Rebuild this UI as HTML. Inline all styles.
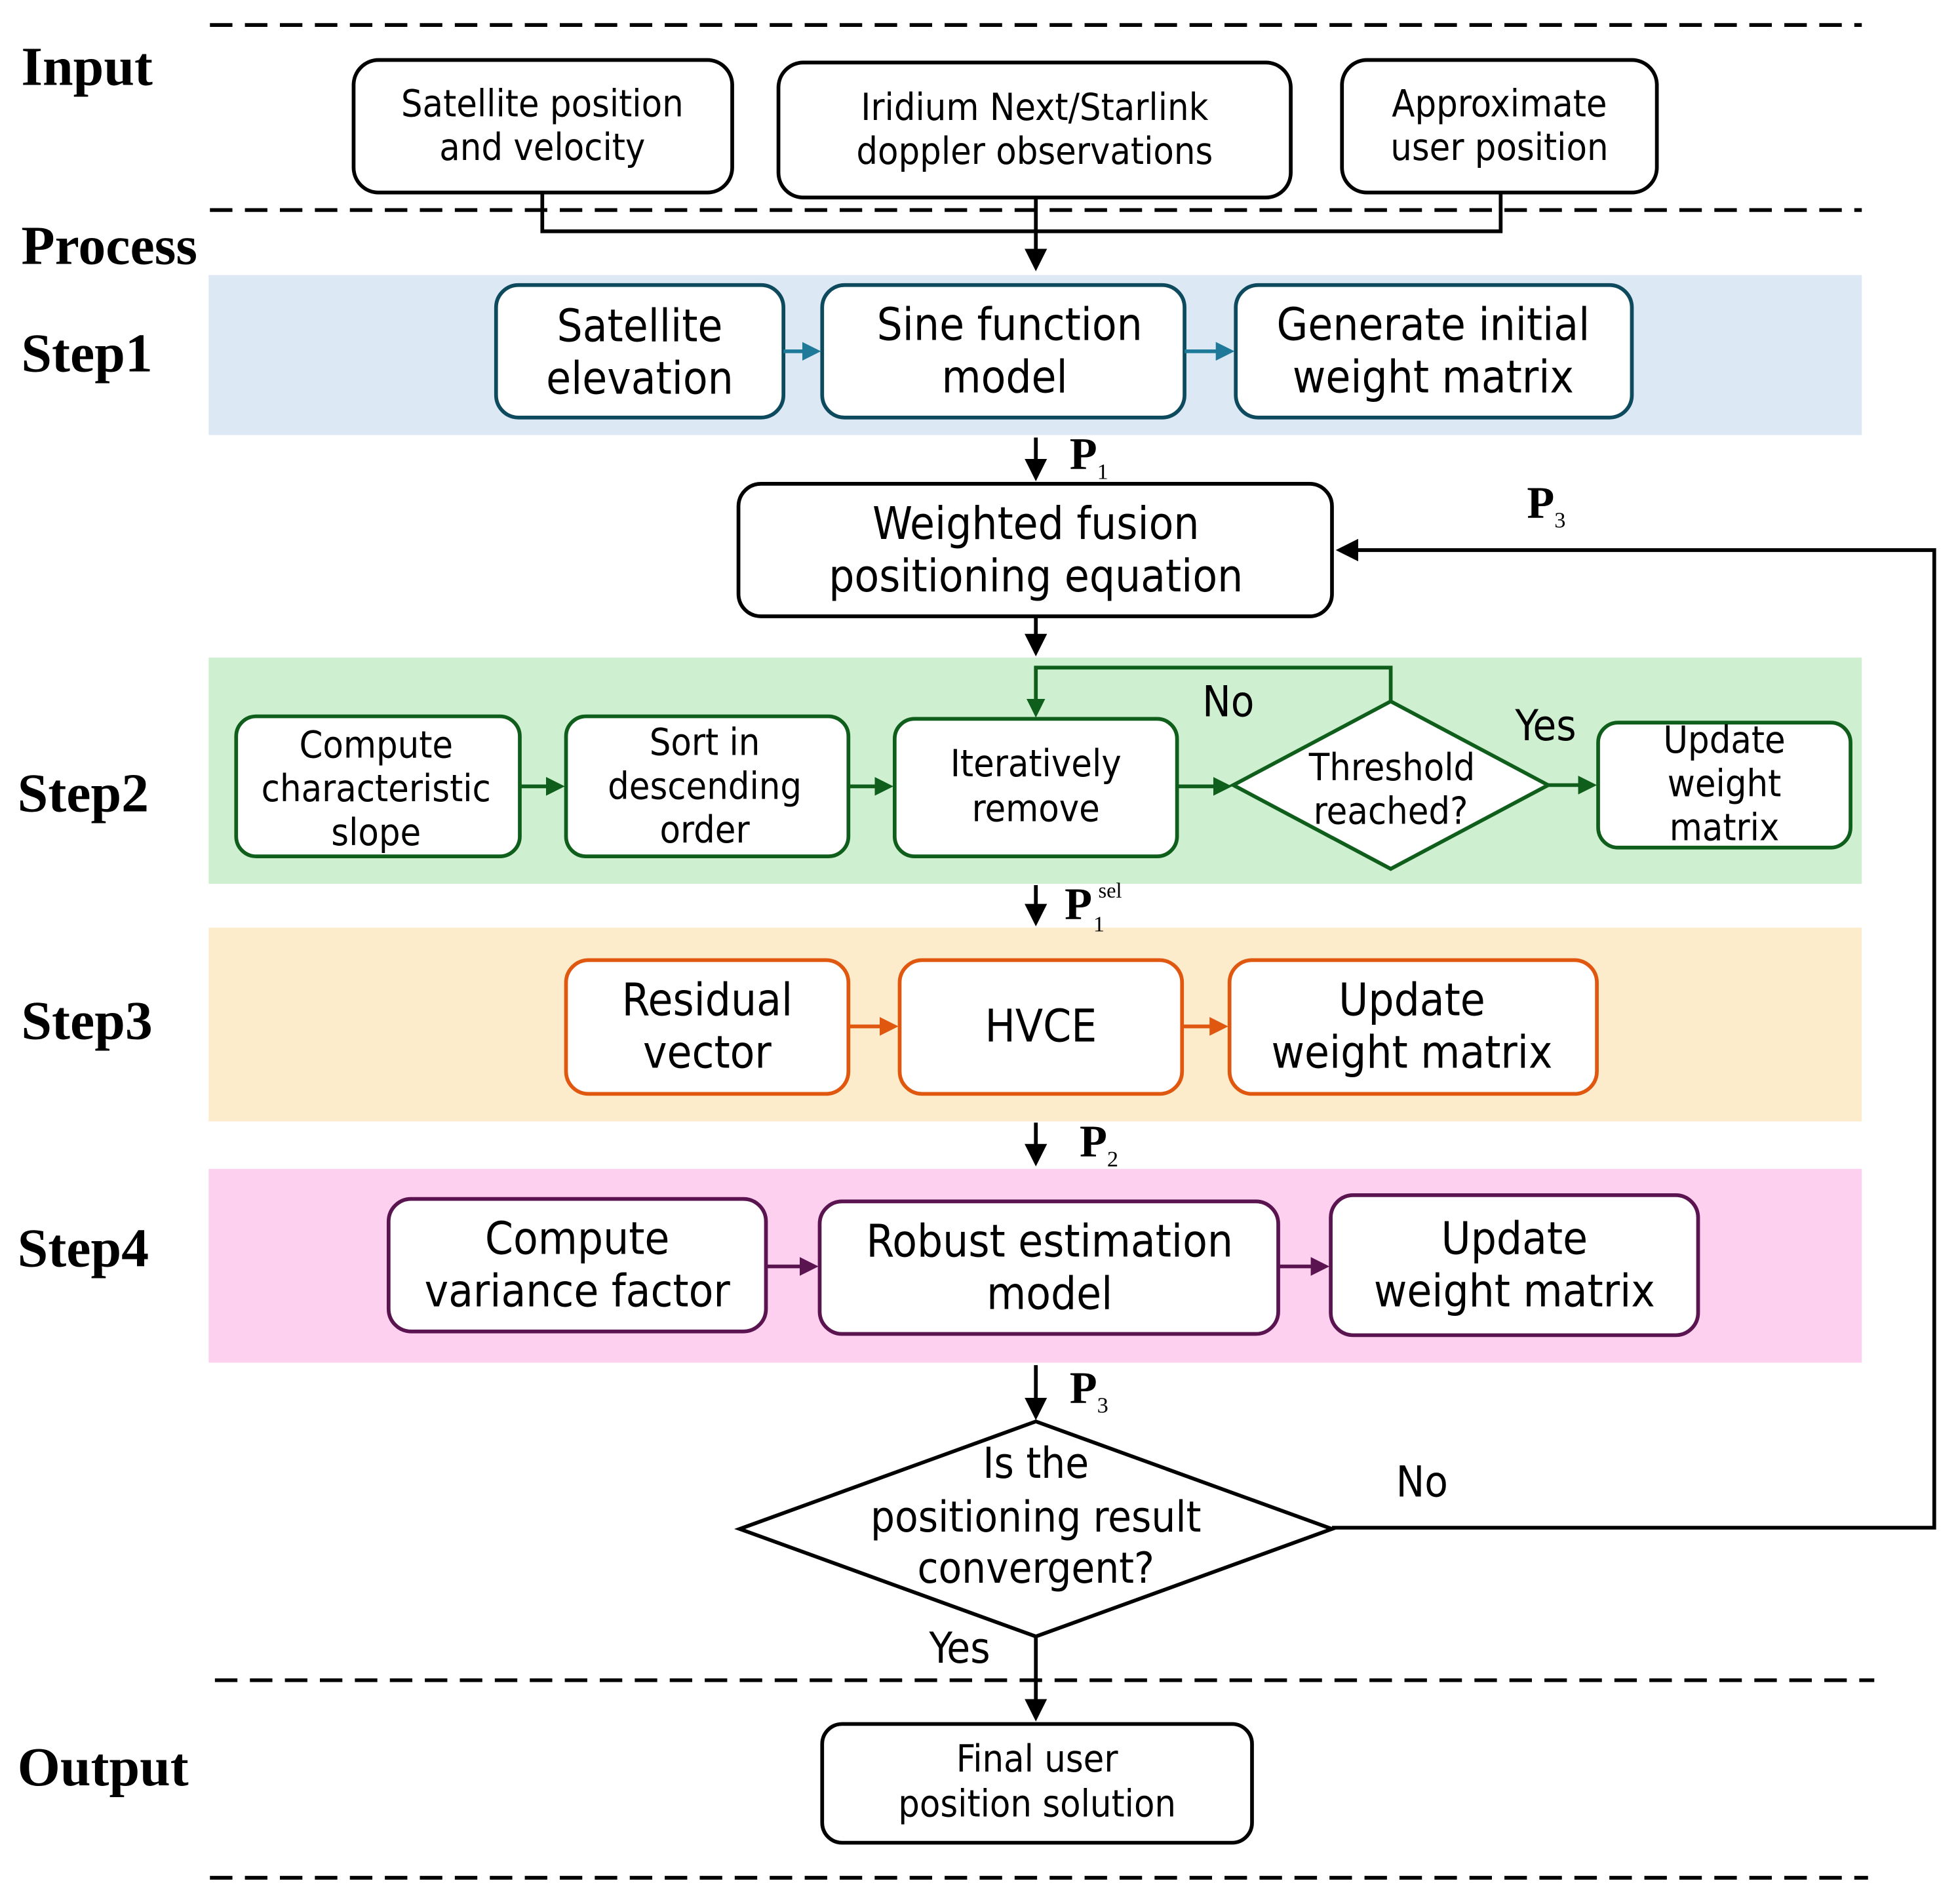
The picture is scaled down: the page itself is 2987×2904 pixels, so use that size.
<!DOCTYPE html>
<html><head><meta charset="utf-8"><style>html,body{margin:0;padding:0;background:#fff}svg{display:block}</style></head>
<body>
<svg width="2987" height="2904" viewBox="0 0 1567 1523" preserveAspectRatio="none" xmlns="http://www.w3.org/2000/svg">
<defs>
<marker id="ak" markerWidth="6" markerHeight="6" refX="5" refY="3" orient="auto" markerUnits="strokeWidth"><path d="M0,0 L6,3 L0,6 z" fill="#000"/></marker>
<marker id="ab" markerWidth="5" markerHeight="5" refX="4" refY="2.5" orient="auto" markerUnits="strokeWidth"><path d="M0,0 L5,2.5 L0,5 z" fill="#1f7a9a"/></marker>
<marker id="ag" markerWidth="5" markerHeight="5" refX="4" refY="2.5" orient="auto" markerUnits="strokeWidth"><path d="M0,0 L5,2.5 L0,5 z" fill="#0f5e1b"/></marker>
<marker id="ao" markerWidth="5" markerHeight="5" refX="4" refY="2.5" orient="auto" markerUnits="strokeWidth"><path d="M0,0 L5,2.5 L0,5 z" fill="#e0580f"/></marker>
<marker id="ap" markerWidth="5" markerHeight="5" refX="4" refY="2.5" orient="auto" markerUnits="strokeWidth"><path d="M0,0 L5,2.5 L0,5 z" fill="#5a1450"/></marker>
</defs>
<rect width="1567" height="1523" fill="#fff"/>
<g stroke="#000" stroke-width="3" stroke-dasharray="18,10">
<line x1="168" y1="20" x2="1490" y2="20"/><line x1="168" y1="168" x2="1490" y2="168"/>
<line x1="172" y1="1344" x2="1500" y2="1344"/><line x1="168" y1="1502" x2="1495" y2="1502"/>
</g>
<g font-family="Liberation Serif, serif" font-weight="bold" font-size="44" fill="#000">
<text x="17" y="68">Input</text><text x="17" y="211">Process</text><text x="17" y="297">Step1</text>
<text x="14" y="649">Step2</text><text x="17" y="831">Step3</text><text x="14" y="1013">Step4</text><text x="14" y="1428">Output</text>
</g>
<rect x="167" y="220" width="1323" height="128" fill="#dce8f3"/>
<rect x="167" y="526" width="1323" height="181" fill="#cff0d0"/>
<rect x="167" y="742" width="1323" height="155" fill="#fdeccb"/>
<rect x="167" y="935" width="1323" height="155" fill="#fdd0ef"/>
<g font-family="DejaVu Sans Condensed, Liberation Sans, sans-serif" text-anchor="middle" fill="#000">
<g fill="#fff" stroke="#000" stroke-width="3">
<rect x="283" y="48" width="303" height="106" rx="20"/><rect x="623" y="50" width="410" height="108" rx="20"/><rect x="1074" y="48" width="252" height="106" rx="20"/>
</g>
<g font-size="30"><text x="434" y="93">Satellite position</text><text x="434" y="128">and velocity</text>
<text x="828" y="96">Iridium Next/Starlink</text><text x="828" y="131">doppler observations</text>
<text x="1200" y="93">Approximate</text><text x="1200" y="128">user position</text></g>
<path d="M434,154 V185 H1201 V154" fill="none" stroke="#000" stroke-width="3"/>
<line x1="829" y1="158" x2="829" y2="214" stroke="#000" stroke-width="3" marker-end="url(#ak)"/>
<g fill="#fff" stroke="#0e4a5e" stroke-width="3">
<rect x="397" y="228" width="230" height="106" rx="18"/><rect x="658" y="228" width="290" height="106" rx="18"/><rect x="989" y="228" width="317" height="106" rx="18"/></g>
<g font-size="36"><text x="512" y="273">Satellite</text><text x="512" y="315">elevation</text>
<text x="808" y="272">Sine function</text><text x="804" y="314">model</text>
<text x="1147" y="272">Generate initial</text><text x="1147" y="314">weight matrix</text></g>
<g stroke="#1f7a9a" stroke-width="3"><line x1="627" y1="281" x2="654" y2="281" marker-end="url(#ab)"/><line x1="948" y1="281" x2="985" y2="281" marker-end="url(#ab)"/></g>
<line x1="829" y1="350" x2="829" y2="382" stroke="#000" stroke-width="3" marker-end="url(#ak)"/>
<rect x="591" y="387" width="475" height="106" rx="18" fill="#fff" stroke="#000" stroke-width="3"/>
<g font-size="36"><text x="829" y="431">Weighted fusion</text><text x="829" y="473">positioning equation</text></g>
<line x1="829" y1="493" x2="829" y2="522" stroke="#000" stroke-width="3" marker-end="url(#ak)"/>
<g fill="#fff" stroke="#0f5e1b" stroke-width="3">
<rect x="189" y="573" width="227" height="112" rx="16"/><rect x="453" y="573" width="226" height="112" rx="16"/><rect x="716" y="575" width="226" height="110" rx="16"/>
<path d="M987,628 L1113,561 L1239,628 L1113,695 z"/><rect x="1279" y="578" width="202" height="100" rx="16"/></g>
<g font-size="30"><text x="301" y="606">Compute</text><text x="301" y="641">characteristic</text><text x="301" y="676">slope</text>
<text x="564" y="604">Sort in</text><text x="564" y="639">descending</text><text x="564" y="674">order</text>
<text x="829" y="621">Iteratively</text><text x="829" y="657">remove</text>
<text x="1114" y="624">Threshold</text><text x="1113" y="659">reached?</text>
<text x="1380" y="602">Update</text><text x="1380" y="637">weight</text><text x="1380" y="672">matrix</text>
<text x="983" y="573" font-size="34">No</text><text x="1237" y="592" font-size="34">Yes</text></g>
<g stroke="#0f5e1b" stroke-width="3" fill="none"><line x1="416" y1="629" x2="449" y2="629" marker-end="url(#ag)"/><line x1="679" y1="629" x2="712" y2="629" marker-end="url(#ag)"/>
<line x1="942" y1="629" x2="983" y2="629" marker-end="url(#ag)"/><line x1="1239" y1="628" x2="1275" y2="628" marker-end="url(#ag)"/>
<path d="M1113,561 V534 H829 V571" marker-end="url(#ag)"/></g>
<line x1="829" y1="708" x2="829" y2="738" stroke="#000" stroke-width="3" marker-end="url(#ak)"/>
<g fill="#fff" stroke="#e0580f" stroke-width="3">
<rect x="453" y="768" width="226" height="107" rx="18"/><rect x="720" y="768" width="226" height="107" rx="18"/><rect x="984" y="768" width="294" height="107" rx="18"/></g>
<g font-size="36"><text x="566" y="812">Residual</text><text x="566" y="854">vector</text><text x="833" y="833">HVCE</text>
<text x="1130" y="812">Update</text><text x="1130" y="854">weight matrix</text></g>
<g stroke="#e0580f" stroke-width="3"><line x1="679" y1="821" x2="716" y2="821" marker-end="url(#ao)"/><line x1="946" y1="821" x2="980" y2="821" marker-end="url(#ao)"/></g>
<line x1="829" y1="898" x2="829" y2="930" stroke="#000" stroke-width="3" marker-end="url(#ak)"/>
<g fill="#fff" stroke="#5a1450" stroke-width="3">
<rect x="311" y="959" width="302" height="106" rx="18"/><rect x="656" y="961" width="367" height="106" rx="18"/><rect x="1065" y="956" width="294" height="112" rx="18"/></g>
<g font-size="36"><text x="462" y="1003">Compute</text><text x="462" y="1045">variance factor</text>
<text x="840" y="1005">Robust estimation</text><text x="840" y="1047">model</text>
<text x="1212" y="1003">Update</text><text x="1212" y="1045">weight matrix</text></g>
<g stroke="#5a1450" stroke-width="3"><line x1="613" y1="1013" x2="652" y2="1013" marker-end="url(#ap)"/><line x1="1023" y1="1013" x2="1061" y2="1013" marker-end="url(#ap)"/></g>
<line x1="829" y1="1092" x2="829" y2="1133" stroke="#000" stroke-width="3" marker-end="url(#ak)"/>
<path d="M592,1223 L829,1137 L1066,1223 L829,1309 z" fill="#fff" stroke="#000" stroke-width="3"/>
<g font-size="34"><text x="829" y="1182">Is the</text><text x="829" y="1225">positioning result</text><text x="829" y="1266">convergent?</text>
<text x="1138" y="1197">No</text><text x="768" y="1330">Yes</text></g>
<path d="M1066,1222 H1548 V440 H1072" fill="none" stroke="#000" stroke-width="3" marker-end="url(#ak)"/>
<line x1="829" y1="1309" x2="829" y2="1374" stroke="#000" stroke-width="3" marker-end="url(#ak)"/>
<rect x="658" y="1379" width="344" height="95" rx="16" fill="#fff" stroke="#000" stroke-width="3"/>
<g font-size="30"><text x="830" y="1417">Final user</text><text x="830" y="1453">position solution</text></g>
</g>
<g font-family="Liberation Serif, serif" font-weight="bold" fill="#000">
<text x="856" y="375" font-size="36">P<tspan font-size="18" dy="8" font-weight="normal">1</tspan></text>
<text x="1222" y="414" font-size="36">P<tspan font-size="18" dy="8" font-weight="normal">3</tspan></text>
<text x="852" y="735" font-size="36">P</text><text x="875" y="745" font-size="18" font-weight="normal">1</text><text x="879" y="718" font-size="17" font-weight="normal">sel</text>
<text x="864" y="925" font-size="36">P<tspan font-size="18" dy="8" font-weight="normal">2</tspan></text>
<text x="856" y="1122" font-size="36">P<tspan font-size="18" dy="8" font-weight="normal">3</tspan></text>
</g>
</svg>
</body></html>
